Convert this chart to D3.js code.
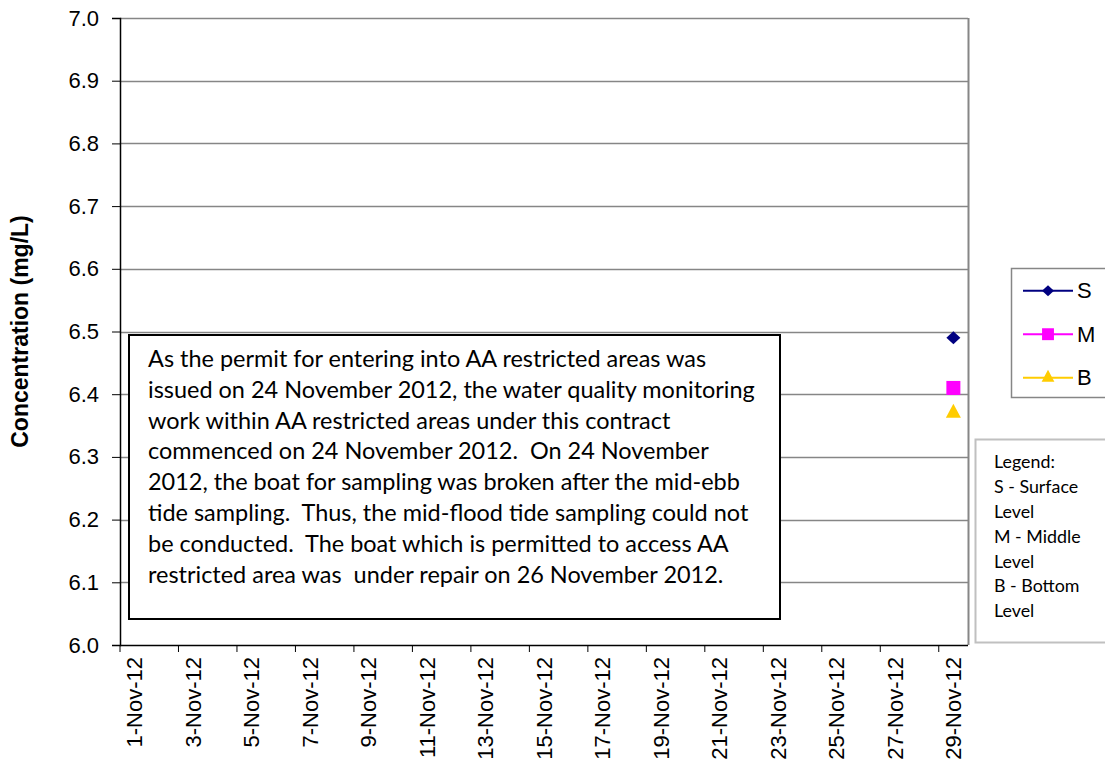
<!DOCTYPE html>
<html>
<head>
<meta charset="utf-8">
<script src="https://cdn.jsdelivr.net/npm/d3@7"></script>
<style>
  body { margin: 0; background: #fff; }
  svg { display: block; }
  .tick-label { font-family: "Liberation Sans", Arial, sans-serif; font-size: 22px; fill: #000; }
  .note { font-family: Lato, "Open Sans", sans-serif; fill: #000; white-space: pre; }
</style>
</head>
<body>
<svg id="chart" width="1105" height="764"></svg>
<script>
// Sampling dates (category axis)
const dates = ['1-Nov-12', '2-Nov-12', '3-Nov-12', '4-Nov-12', '5-Nov-12', '6-Nov-12', '7-Nov-12',
    '8-Nov-12', '9-Nov-12', '10-Nov-12', '11-Nov-12', '12-Nov-12', '13-Nov-12', '14-Nov-12',
    '15-Nov-12', '16-Nov-12', '17-Nov-12', '18-Nov-12', '19-Nov-12', '20-Nov-12', '21-Nov-12',
    '22-Nov-12', '23-Nov-12', '24-Nov-12', '25-Nov-12', '26-Nov-12', '27-Nov-12', '28-Nov-12',
    '29-Nov-12'];

// Concentration (mg/L) per depth, one value per date
const surface = [null, null, null, null, null, null, null, null, null, null, null, null, null, null,
    null, null, null, null, null, null, null, null, null, null, null, null, null, null, 6.49];
const middle = [null, null, null, null, null, null, null, null, null, null, null, null, null, null,
    null, null, null, null, null, null, null, null, null, null, null, null, null, null, 6.41];
const bottom = [null, null, null, null, null, null, null, null, null, null, null, null, null, null,
    null, null, null, null, null, null, null, null, null, null, null, null, null, null, 6.37];

const yTicks = [6.0, 6.1, 6.2, 6.3, 6.4, 6.5, 6.6, 6.7, 6.8, 6.9, 7.0];
const seriesNames = ['S', 'M', 'B'];
const legendNotes = ['Legend:', 'S - Surface', 'Level', 'M - Middle', 'Level', 'B - Bottom', 'Level'];
const noteLines = [
    'As the permit for entering into AA restricted areas was',
    'issued on 24 November 2012, the water quality monitoring',
    'work within AA restricted areas under this contract',
    'commenced on 24 November 2012.  On 24 November',
    '2012, the boat for sampling was broken after the mid-ebb',
    'tide sampling.  Thus, the mid-flood tide sampling could not',
    'be conducted.  The boat which is permitted to access AA',
    'restricted area was  under repair on 26 November 2012.'
];

const colors = { S: '#000080', M: '#FF00FF', B: '#FFCC00' };
const markers = {
    S: 'M0,-6.5L7,0L0,6.5L-7,0Z',
    M: 'M-7,-7L7,-7L7,7L-7,7Z',
    B: 'M0,-9.3L7.5,4.7L-7.5,4.7Z'
};

const svg = d3.select('#chart');
const plot = { left: 120, right: 968, top: 18, bottom: 645 };

// Scales
const xScale = d3.scaleBand().domain(dates).range([plot.left, plot.right]);
const yScale = d3.scaleLinear().domain([6.0, 7.0]).range([plot.bottom, plot.top]);

// Horizontal grid lines
svg.selectAll('.grid-line')
    .data(yTicks.filter(d => d > 6.0))
    .enter()
    .append('line')
    .attr('class', 'grid-line')
    .attr('x1', plot.left)
    .attr('x2', plot.right)
    .attr('y1', d => Math.round(yScale(d)) + 0.5)
    .attr('y2', d => Math.round(yScale(d)) + 0.5)
    .attr('stroke', '#868686')
    .attr('stroke-width', 1.5);

// Right border of the plot area
svg.append('line')
    .attr('x1', plot.right + 0.5).attr('x2', plot.right + 0.5)
    .attr('y1', plot.top).attr('y2', plot.bottom)
    .attr('stroke', '#868686')
    .attr('stroke-width', 2);

// Y axis
const yAxis = svg.append('g')
    .attr('transform', `translate(${plot.left},0)`)
    .call(d3.axisLeft(yScale)
        .tickValues(yTicks)
        .tickFormat(d3.format('.1f'))
        .tickSize(8)
        .tickPadding(13));
yAxis.select('.domain').attr('stroke', '#000').attr('stroke-width', 1.5);
yAxis.selectAll('.tick line').attr('stroke', '#000');
yAxis.selectAll('.tick text').attr('class', 'tick-label').attr('font-family', null).attr('font-size', null);

// Y axis title
svg.append('text')
    .attr('transform', `translate(28,${(plot.top + plot.bottom) / 2}) rotate(-90)`)
    .attr('text-anchor', 'middle')
    .style('font-family', '"Liberation Sans", Arial, sans-serif')
    .style('font-size', '23px')
    .style('font-weight', 'bold')
    .text('Concentration (mg/L)');

// X axis line
svg.append('line')
    .attr('x1', plot.left).attr('x2', plot.right)
    .attr('y1', plot.bottom + 0.5).attr('y2', plot.bottom + 0.5)
    .attr('stroke', '#000')
    .attr('stroke-width', 1.5);

// X ticks at every other category boundary, labels at category centres
const labelDates = dates.filter((_, i) => i % 2 === 0);
svg.selectAll('.x-tick')
    .data(labelDates)
    .enter()
    .append('line')
    .attr('class', 'x-tick')
    .attr('x1', d => xScale(d))
    .attr('x2', d => xScale(d))
    .attr('y1', plot.bottom)
    .attr('y2', plot.bottom + 7)
    .attr('stroke', '#000');

svg.selectAll('.x-label')
    .data(labelDates)
    .enter()
    .append('text')
    .attr('class', 'tick-label x-label')
    .attr('transform', d => `translate(${xScale(d) + xScale.bandwidth() / 2},${plot.bottom + 12}) rotate(-90)`)
    .attr('text-anchor', 'end')
    .attr('dy', '0.35em')
    .text(d => d);

// Series markers (single points, no connecting segments)
const series = [
    { name: 'S', values: surface },
    { name: 'M', values: middle },
    { name: 'B', values: bottom }
];
const line = d3.line()
    .defined(d => d.v !== null)
    .x(d => xScale(d.date) + xScale.bandwidth() / 2)
    .y(d => yScale(d.v));

series.forEach(s => {
    const pts = s.values.map((v, i) => ({ date: dates[i], v: v }));
    svg.append('path')
        .attr('d', line(pts))
        .attr('fill', 'none')
        .attr('stroke', colors[s.name])
        .attr('stroke-width', 2);
    svg.selectAll(`.pt-${s.name}`)
        .data(pts.filter(p => p.v !== null))
        .enter()
        .append('path')
        .attr('class', `pt-${s.name}`)
        .attr('d', markers[s.name])
        .attr('transform', p => `translate(${xScale(p.date) + xScale.bandwidth() / 2},${yScale(p.v)})`)
        .attr('fill', colors[s.name]);
});

// Note box
const note = svg.append('g');
note.append('rect')
    .attr('x', 129).attr('y', 335)
    .attr('width', 651).attr('height', 284)
    .attr('fill', '#fff')
    .attr('stroke', '#000')
    .attr('stroke-width', 2);
const noteText = note.append('text').attr('class', 'note').style('font-size', '20px');
noteLines.forEach((t, i) => {
    noteText.append('tspan')
        .attr('x', 148)
        .attr('y', 367 + i * 30.8)
        .text(t);
});
// fit the note font so that the widest line spans like the original
let widest = 0;
noteText.selectAll('tspan').each(function() {
    widest = Math.max(widest, this.getComputedTextLength());
});
const noteSize = 20 * 607 / widest;
noteText.style('font-size', `${noteSize}px`);

// Series legend
const legend = svg.append('g');
legend.append('rect')
    .attr('x', 1011.5).attr('y', 268.5)
    .attr('width', 120).attr('height', 129)
    .attr('fill', '#fff')
    .attr('stroke', '#868686')
    .attr('stroke-width', 1.5);
seriesNames.forEach((name, i) => {
    const ly = 290.7 + i * 43.5;
    legend.append('line')
        .attr('x1', 1023).attr('x2', 1073)
        .attr('y1', ly).attr('y2', ly)
        .attr('stroke', colors[name])
        .attr('stroke-width', 2);
    legend.append('path')
        .attr('d', markers[name])
        .attr('transform', `translate(1048,${ly}) scale(0.85)`)
        .attr('fill', colors[name]);
    legend.append('text')
        .attr('class', 'tick-label')
        .attr('x', 1077)
        .attr('y', ly)
        .attr('dy', '0.35em')
        .text(name);
});

// Depth legend note
const legend2 = svg.append('g');
legend2.append('rect')
    .attr('x', 975.5).attr('y', 439.5)
    .attr('width', 150).attr('height', 203)
    .attr('fill', '#fff')
    .attr('stroke', '#c0c0c0')
    .attr('stroke-width', 2);
legend2.selectAll('text')
    .data(legendNotes)
    .enter()
    .append('text')
    .attr('class', 'note')
    .attr('x', 994)
    .attr('y', (d, i) => 461.7 + i * 24.9)
    .attr('dy', '0.35em')
    .style('font-size', `${noteSize * 0.76}px`)
    .text(d => d);
</script>
</body>
</html>
